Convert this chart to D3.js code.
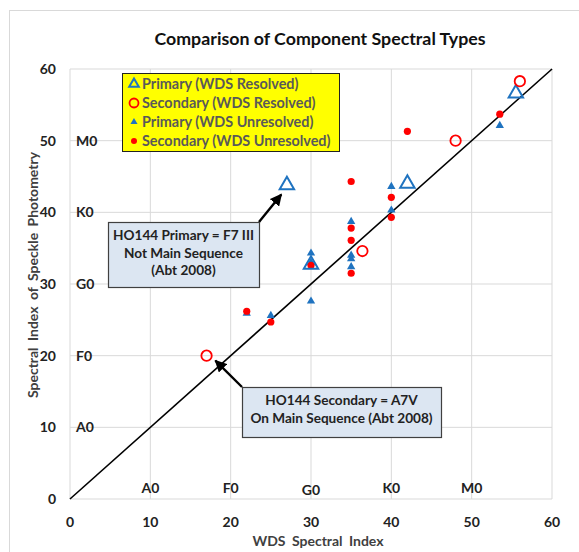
<!DOCTYPE html>
<html>
<head>
<meta charset="utf-8">
<script src="https://cdn.jsdelivr.net/npm/d3@7"></script>
<style>
  body { margin: 0; background: #fff; }
  svg text { font-family: Lato, "Open Sans", sans-serif; font-weight: bold; }
</style>
</head>
<body>
<div id="main"></div>
<script>
// data
const primaryResolved = [[27, 43.8], [42, 44], [30, 32.7], [55.5, 56.6]];
const secondaryResolved = [[17, 20], [36.4, 34.6], [48, 50], [56, 58.3]];
const primaryUnresolved = [[22, 25.9], [25, 25.6], [30, 34.3], [30, 33], [30, 27.6],
  [35, 38.7], [35, 34], [35, 33.5], [35, 32.4], [40, 43.6], [40, 40.3], [53.5, 52.1]];
const secondaryUnresolved = [[22, 26.2], [25, 24.7], [30, 32.6], [35, 44.3], [35, 37.8],
  [35, 36.1], [35, 31.5], [40, 42.1], [40, 39.3], [42, 51.3], [53.5, 53.7]];
const ticks = [0, 10, 20, 30, 40, 50, 60];
const classNames = ['A0', 'F0', 'G0', 'K0', 'M0'];
const classValues = [10, 20, 30, 40, 50];
const legendLabels = ['Primary (WDS Resolved)', 'Secondary (WDS Resolved)',
  'Primary (WDS Unresolved)', 'Secondary (WDS Unresolved)'];

const width = 579, height = 552;
const blue = '#1f73c0', red = '#ff0000';

const svg = d3.select('#main').append('svg').attr('width', width).attr('height', height);

// outer chart border
svg.append('rect').attr('x', 9.5).attr('y', 10.5).attr('width', 600).attr('height', 600)
  .attr('fill', 'none').attr('stroke', '#d9d9d9');

const x = d3.scaleLinear().domain([0, 60]).range([70, 552]);
const y = d3.scaleLinear().domain([0, 60]).range([499, 69]);

// grid
svg.append('g').selectAll('line').data(ticks.slice(1)).join('line')
  .attr('x1', d => x(d)).attr('x2', d => x(d)).attr('y1', y(0)).attr('y2', y(60))
  .attr('stroke', '#d9d9d9');
svg.append('g').selectAll('line').data(ticks.slice(1)).join('line')
  .attr('y1', d => y(d)).attr('y2', d => y(d)).attr('x1', x(0)).attr('x2', x(60))
  .attr('stroke', '#d9d9d9');
svg.append('line').attr('x1', x(0)).attr('x2', x(0)).attr('y1', y(0)).attr('y2', y(60)).attr('stroke', '#d9d9d9');
svg.append('line').attr('x1', x(0)).attr('x2', x(60)).attr('y1', y(0)).attr('y2', y(0)).attr('stroke', '#d9d9d9');

// tick labels
svg.append('g').selectAll('text').data(ticks).join('text')
  .attr('x', d => x(d)).attr('y', 527).attr('text-anchor', 'middle')
  .attr('font-size', 14).attr('fill', '#222').text(d => d);
svg.append('g').selectAll('text').data(ticks).join('text')
  .attr('x', 56).attr('y', d => y(d) + 5).attr('text-anchor', 'end')
  .attr('font-size', 14).attr('fill', '#222').text(d => d);

// spectral class labels
svg.append('g').selectAll('text').data(classValues).join('text')
  .attr('x', d => x(d)).attr('y', (d, i) => i === 2 ? 495 : 493).attr('text-anchor', 'middle')
  .attr('font-size', 14).attr('fill', '#222').text((d, i) => classNames[i]);
svg.append('g').selectAll('text').data(classValues).join('text')
  .attr('x', 76).attr('y', d => y(d) + 5)
  .attr('font-size', 14).attr('fill', '#222').text((d, i) => classNames[i]);

// titles
svg.append('text').attr('x', 320).attr('y', 45).attr('text-anchor', 'middle')
  .attr('font-size', 17.8).attr('fill', '#111').text('Comparison of Component Spectral Types');
svg.append('text').attr('x', 318).attr('y', 546).attr('text-anchor', 'middle')
  .attr('font-size', 14).attr('fill', '#404040').attr('word-spacing', 3).text('WDS Spectral Index');
svg.append('text').attr('transform', 'translate(38,275) rotate(-90)').attr('text-anchor', 'middle')
  .attr('font-size', 14).attr('fill', '#404040').attr('word-spacing', 3)
  .text('Spectral Index of Speckle Photometry');

// 1:1 line
svg.append('line').attr('x1', x(0)).attr('y1', y(0)).attr('x2', x(60)).attr('y2', y(60))
  .attr('stroke', '#000').attr('stroke-width', 1.6);

const triSmall = d3.symbol(d3.symbolTriangle, 30);
const triBig = d3.symbol(d3.symbolTriangle, 90);

svg.append('g').selectAll('path').data(primaryUnresolved).join('path')
  .attr('d', triSmall).attr('transform', d => `translate(${x(d[0])},${y(d[1])})`)
  .attr('fill', blue);
svg.append('g').selectAll('circle').data(secondaryUnresolved).join('circle')
  .attr('cx', d => x(d[0])).attr('cy', d => y(d[1])).attr('r', 3.6).attr('fill', red);
svg.append('g').selectAll('path').data(primaryResolved).join('path')
  .attr('d', triBig).attr('transform', d => `translate(${x(d[0])},${y(d[1])})`)
  .attr('fill', 'none').attr('stroke', blue).attr('stroke-width', 2);
svg.append('g').selectAll('circle').data(secondaryResolved).join('circle')
  .attr('cx', d => x(d[0])).attr('cy', d => y(d[1])).attr('r', 5.2)
  .attr('fill', 'none').attr('stroke', red).attr('stroke-width', 1.8);

// legend
const lg = svg.append('g');
lg.append('rect').attr('x', 122.5).attr('y', 73.5).attr('width', 217).attr('height', 78)
  .attr('fill', '#ffff00').attr('stroke', '#222').attr('stroke-width', 1);
const legendMarks = [
  g => g.append('path').attr('d', d3.symbol(d3.symbolTriangle, 40)).attr('fill', 'none').attr('stroke', blue).attr('stroke-width', 2),
  g => g.append('circle').attr('r', 4.5).attr('fill', 'none').attr('stroke', red).attr('stroke-width', 1.8),
  g => g.append('path').attr('d', d3.symbol(d3.symbolTriangle, 22)).attr('fill', blue),
  g => g.append('circle').attr('r', 3).attr('fill', red)
];
legendLabels.forEach((t, i) => {
  const row = lg.append('g').attr('transform', `translate(134,${84 + i * 19})`);
  legendMarks[i](row);
  row.append('text').attr('x', 8).attr('y', 5).attr('font-size', 14.4).attr('fill', '#595959').text(t);
});

// annotations
const defs = svg.append('defs');
defs.append('marker').attr('id', 'arr').attr('viewBox', '0 0 10 10').attr('refX', 9).attr('refY', 5)
  .attr('markerWidth', 5).attr('markerHeight', 5).attr('orient', 'auto')
  .append('path').attr('d', 'M0,0 L10,5 L0,10 z').attr('fill', '#000');

function note(bx, by, bw, bh, lines, ax1, ay1, ax2, ay2) {
  svg.append('line').attr('x1', ax1).attr('y1', ay1).attr('x2', ax2).attr('y2', ay2)
    .attr('stroke', '#000').attr('stroke-width', 2.4).attr('marker-end', 'url(#arr)');
  svg.append('rect').attr('x', bx + 0.5).attr('y', by + 0.5).attr('width', bw).attr('height', bh)
    .attr('fill', '#dce6f2').attr('stroke', '#404040').attr('stroke-width', 1.2);
  lines.forEach((t, i) => {
    svg.append('text').attr('x', bx + bw / 2).attr('y', by + 18 + i * 17.5)
      .attr('text-anchor', 'middle').attr('font-size', 13.6).attr('fill', '#222').text(t);
  });
}
note(108, 222, 151, 65, ['HO144 Primary = F7 III', 'Not Main Sequence', '(Abt 2008)'], 259, 222, x(26.3), y(42.5));
note(242, 387, 199, 50, ['HO144 Secondary = A7V', 'On Main Sequence (Abt 2008)'], 242, 387, x(18.1), y(19.3));
</script>
</body>
</html>
